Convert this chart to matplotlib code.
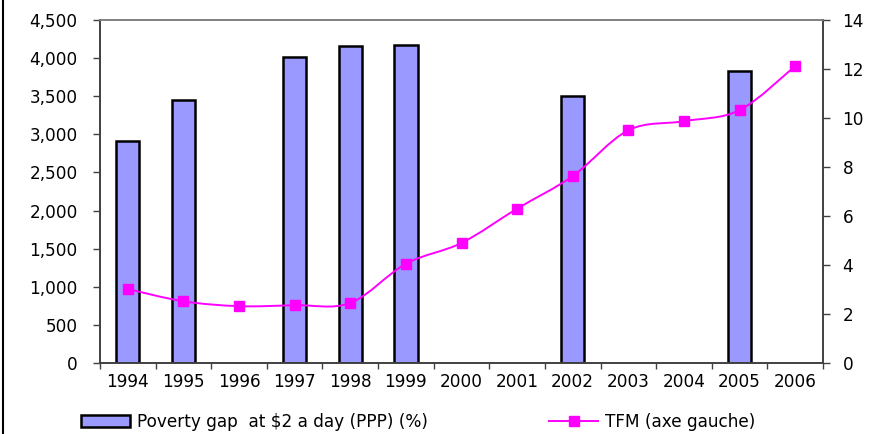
import matplotlib
matplotlib.use("Agg")
import matplotlib.pyplot as plt
from matplotlib.path import Path
from matplotlib.patches import PathPatch
from matplotlib.lines import Line2D
import numpy as np

years = ["1994", "1995", "1996", "1997", "1998", "1999", "2000",
         "2001", "2002", "2003", "2004", "2005", "2006"]
poverty_gap = [2910, 3450, np.nan, 4010, 4165, 4175, np.nan,
               np.nan, 3500, np.nan, np.nan, 3825, np.nan]
tfm = [3.02, 2.52, 2.32, 2.36, 2.45, 4.05, 4.9, 6.3, 7.63, 9.5, 9.87, 10.32, 12.12]
left_ticks = [0, 500, 1000, 1500, 2000, 2500, 3000, 3500, 4000, 4500]
right_ticks = [0, 2, 4, 6, 8, 10, 12, 14]

plt.rcParams['font.family'] = ['DejaVu Sans']
FS = 12.2
BAR_C = "#9999FF"
LINE_C = "#FF00FF"

fig = plt.figure(figsize=(8.76, 4.34), dpi=100)
ax = fig.add_axes([100/876, 1-363/434, 723/876, 343/434])
ax2 = ax.twinx()

x = np.arange(len(years))
ax.bar(x, poverty_gap, width=0.42, color=BAR_C, edgecolor="black", linewidth=1.8, zorder=2)
ax.set_ylim(0, 4500)
ax.set_xlim(-0.5, len(years) - 0.5)
ax.set_yticks(left_ticks)
ax.set_yticklabels([f"{v:,}" for v in left_ticks])
ax.set_xticks(np.arange(len(years) + 1) - 0.5)
ax.set_xticklabels([])
ax.set_xticks(x, minor=True)
ax.set_xticklabels(years, minor=True)
ax.tick_params(axis="x", which="minor", length=0, pad=7, labelsize=FS)
ax.tick_params(axis="x", which="major", length=4, width=1, color="#404040", direction="out")
ax.tick_params(axis="y", length=5, width=1, color="#404040", pad=11, labelsize=FS)

ax2.set_ylim(0, 14)
ax2.set_yticks(right_ticks)
ax2.tick_params(axis="y", length=5, width=1, color="#404040", pad=9, labelsize=FS)

# smooth line (Catmull-Rom as cubic Bezier segments) in data coords
pts = np.column_stack([x, tfm])
verts = [tuple(pts[0])]
codes = [Path.MOVETO]
n = len(pts)
for i in range(n - 1):
    p0 = pts[i - 1] if i > 0 else pts[i]
    p1 = pts[i]
    p2 = pts[i + 1]
    p3 = pts[i + 2] if i + 2 < n else pts[i + 1]
    c1 = p1 + (p2 - p0) / 6.0
    c2 = p2 - (p3 - p1) / 6.0
    verts += [tuple(c1), tuple(c2), tuple(p2)]
    codes += [Path.CURVE4, Path.CURVE4, Path.CURVE4]
ax2.add_patch(PathPatch(Path(verts, codes), facecolor="none", edgecolor=LINE_C,
                        linewidth=1.4, zorder=3))
ax2.plot(x, tfm, linestyle="none", marker="s", markersize=7.5, color=LINE_C, zorder=4)

for a in (ax, ax2):
    a.spines["top"].set_color("#808080")
    a.spines["bottom"].set_color("#404040")
    a.spines["left"].set_color("#404040")
    a.spines["right"].set_color("#404040")
    for s in a.spines.values():
        s.set_linewidth(1.2)
ax.set_zorder(1)
ax2.set_zorder(2)
ax2.patch.set_visible(False)

# legend
h1 = plt.Rectangle((0, 0), 1, 1, facecolor=BAR_C, edgecolor="black", linewidth=1.8)
h2 = Line2D([0], [0], color=LINE_C, linewidth=1.4, marker="s", markersize=7.5)
leg_kw = dict(loc="center left", frameon=False, fontsize=FS, handlelength=2.9,
              handleheight=0.75, handletextpad=0.4, borderpad=0, borderaxespad=0)
fig.legend([h1], ["Poverty gap  at $2 a day (PPP) (%)"],
           bbox_to_anchor=(81/876, 1-422/434), **leg_kw)
fig.legend([h2], ["TFM (axe gauche)"],
           bbox_to_anchor=(549/876, 1-422/434), **leg_kw)

# left figure border line
fig.add_artist(Line2D([3/876, 3/876], [0, 1], transform=fig.transFigure,
                      color="black", linewidth=1.5))

fig.savefig("out.png", dpi=100)
